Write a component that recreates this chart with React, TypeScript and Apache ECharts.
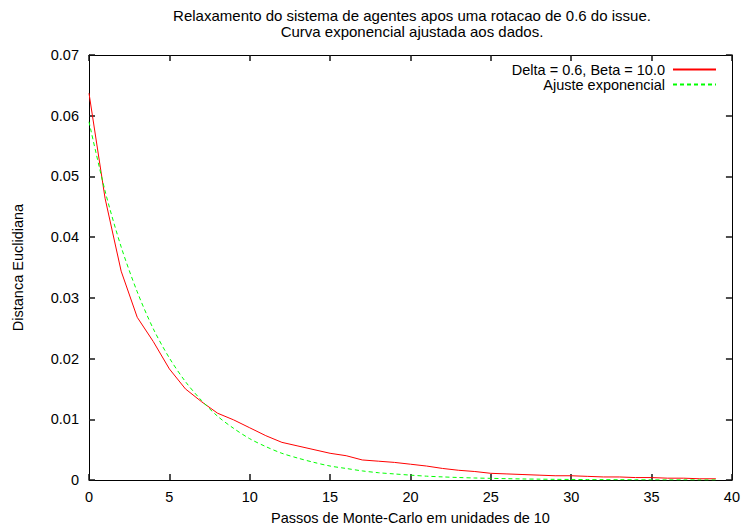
import React, { useEffect, useRef } from "react";
import * as echarts from "echarts";

const titleLines = [
  "Relaxamento do sistema de agentes apos uma rotacao de 0.6 do issue.",
  "Curva exponencial ajustada aos dados.",
];
const xAxisName = "Passos de Monte-Carlo em unidades de 10";
const yAxisName = "Distanca Euclidiana";
const seriesNames = ["Delta = 0.6, Beta = 10.0", "Ajuste exponencial"];

const steps = [
  0, 1, 2, 3, 4, 5, 6, 7, 8, 9, 10, 11, 12, 13, 14, 15, 16, 17, 18, 19, 20, 21,
  22, 23, 24, 25, 26, 27, 28, 29, 30, 31, 32, 33, 34, 35, 36, 37, 38, 39,
];
const measured = [
  0.0637, 0.0464, 0.0344, 0.0268, 0.0228, 0.0183, 0.015, 0.0129, 0.011, 0.0099,
  0.0086, 0.0073, 0.0062, 0.0056, 0.005, 0.0044, 0.004, 0.0033, 0.0031, 0.0029,
  0.0026, 0.0023, 0.0019, 0.0016, 0.0014, 0.0011, 0.001, 0.0009, 0.0008, 0.0007,
  0.0007, 0.0006, 0.0005, 0.0005, 0.0004, 0.0004, 0.0003, 0.0003, 0.0002, 0.0002,
];
const fitted = [
  0.059, 0.0476, 0.0384, 0.031, 0.0249, 0.0201, 0.0162, 0.0131, 0.0105, 0.0085,
  0.0068, 0.0055, 0.0044, 0.0036, 0.0029, 0.0023, 0.0019, 0.0015, 0.0012, 0.001,
  0.0008, 0.00063, 0.00051, 0.00041, 0.00033, 0.00027, 0.00022, 0.00017,
  0.00014, 0.00011, 0.00009, 0.00007, 0.00006, 0.00005, 0.00004, 0.00003,
  0.00002, 0.00002, 0.00001, 0.00001,
];

const FONT = "'Liberation Sans', Arial, Helvetica, sans-serif";
const FS = 14.5;

export default function App() {
  const ref = useRef<HTMLDivElement>(null);
  useEffect(() => {
    if (!ref.current) return;
    const chart = echarts.init(ref.current, undefined, { renderer: "svg" });
    const tickLabel = { fontFamily: FONT, fontSize: FS, color: "#000" };
    const axisLine = () => ({ show: true, onZero: false, lineStyle: { color: "#000", width: 1 } });
    const axisTick = () => ({
      show: true,
      inside: true,
      length: 6,
      lineStyle: { color: "rgb(20,20,20)", width: 1.5, type: "solid" },
    });
    const titleStyle = { fontFamily: FONT, fontSize: 15, fontWeight: "normal", color: "#000", lineHeight: 15 };
    chart.setOption({
      animation: false,
      backgroundColor: "#fff",
      textStyle: { fontFamily: FONT },
      title: [
        { text: titleLines[0], left: 412, textAlign: "center", top: 8, padding: 0, textStyle: titleStyle },
        { text: titleLines[1], left: 412, textAlign: "center", top: 24, padding: 0, textStyle: titleStyle },
      ],
      legend: {
        orient: "vertical",
        right: 21,
        top: 57,
        align: "right",
        itemWidth: 43,
        itemHeight: 14,
        itemGap: 0,
        itemStyle: { opacity: 0 },
        textStyle: { fontFamily: FONT, fontSize: FS, color: "#000", lineHeight: 14, padding: [0, 3, 0, 0] },
        data: seriesNames,
      },
      grid: {
        left: 89,
        right: 8,
        top: 55,
        bottom: 45,
        containLabel: false,
        show: false,
      },
      xAxis: [
        {
          type: "value",
          min: 0,
          max: 40,
          interval: 5,
          position: "bottom",
          name: xAxisName,
          nameLocation: "middle",
          nameGap: 30,
          nameTextStyle: { fontFamily: FONT, fontSize: FS, color: "#000" },
          axisLine: axisLine(),
          axisTick: axisTick(),
          axisLabel: { ...tickLabel, margin: 9 },
          splitLine: { show: false },
        },
        {
          type: "value",
          min: 0,
          max: 40,
          interval: 5,
          position: "top",
          axisLine: axisLine(),
          axisTick: axisTick(),
          axisLabel: { show: false },
          splitLine: { show: false },
        },
      ],
      yAxis: [
        {
          type: "value",
          min: 0,
          max: 0.07,
          interval: 0.01,
          position: "left",
          name: yAxisName,
          nameLocation: "middle",
          nameGap: 64,
          nameTextStyle: { fontFamily: FONT, fontSize: FS, color: "#000" },
          axisLine: axisLine(),
          axisTick: axisTick(),
          axisLabel: {
            ...tickLabel,
            margin: 10,
            formatter: (v: number) => (v === 0 ? "0" : v.toFixed(2)),
          },
          splitLine: { show: false },
        },
        {
          type: "value",
          min: 0,
          max: 0.07,
          interval: 0.01,
          position: "right",
          axisLine: axisLine(),
          axisTick: axisTick(),
          axisLabel: { show: false },
          splitLine: { show: false },
        },
      ],
      series: [
        {
          name: seriesNames[0],
          type: "line",
          data: steps.map((s, i) => [s, measured[i]]),
          showSymbol: false,
          symbol: "none",
          lineStyle: { color: "#ff0000", width: 1 },
          itemStyle: { color: "#ff0000" },
        },
        {
          name: seriesNames[1],
          type: "line",
          data: steps.map((s, i) => [s, fitted[i]]),
          showSymbol: false,
          symbol: "none",
          smooth: 0.3,
          lineStyle: { color: "#00ff00", width: 1, type: [4, 3] },
          itemStyle: { color: "#00ff00" },
        },
        {
          name: "mirror",
          type: "line",
          xAxisIndex: 1,
          yAxisIndex: 1,
          data: [],
          showSymbol: false,
          silent: true,
        },
      ],
    });
    return () => chart.dispose();
  }, []);
  return (
    <div
      ref={ref}
      style={{ width: 743, height: 530, position: "absolute", left: 0, top: 0, background: "#fff" }}
    />
  );
}
